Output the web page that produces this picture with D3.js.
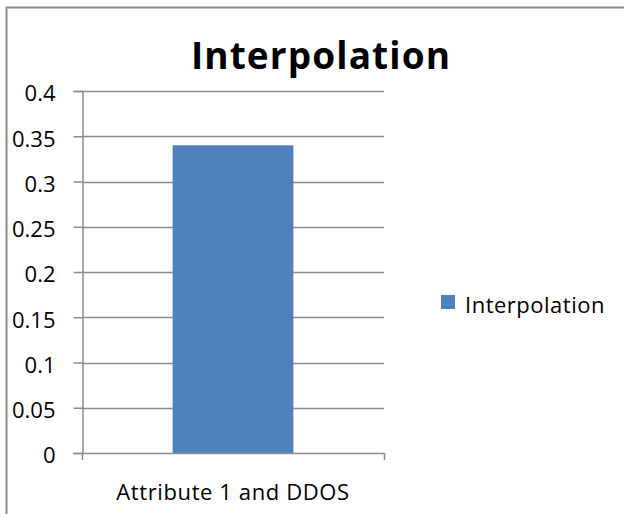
<!DOCTYPE html>
<html>
<head>
<meta charset="utf-8">
<script src="https://cdn.jsdelivr.net/npm/d3@7"></script>
<style>
  html, body { margin: 0; padding: 0; background: #fff; }
  svg { display: block; }
  text { font-family: "Open Sans", Lato, sans-serif; fill: #000; }
</style>
</head>
<body>
<svg id="chart" width="624" height="514"></svg>
<script>
// Chart data
const categories = ["Attribute 1 and DDOS"];
const seriesName = "Interpolation";
const seriesValues = [0.34];
const yTicks = [0, 0.05, 0.1, 0.15, 0.2, 0.25, 0.3, 0.35, 0.4];

const svg = d3.select("#chart");
const plot = { left: 82, right: 384, top: 91, bottom: 453 };
const FONT = "'Open Sans', Lato, sans-serif";

// outer frame of the chart area
svg.append("rect")
  .attr("x", 6.5).attr("y", 7.5)
  .attr("width", 640).attr("height", 540)
  .attr("fill", "none").attr("stroke", "#8c8c8c").attr("stroke-width", 2);

const y = d3.scaleLinear().domain([0, 0.4]).range([plot.bottom, plot.top]);
const x = d3.scaleBand().domain(categories).range([plot.left, plot.right]).paddingInner(0.6).paddingOuter(0.3);

// horizontal gridlines
svg.append("g").selectAll("line").data(yTicks.slice(1)).join("line")
  .attr("x1", plot.left).attr("x2", plot.right)
  .attr("y1", d => Math.round(y(d)) + 0.5).attr("y2", d => Math.round(y(d)) + 0.5)
  .attr("stroke", "#8c8c8c").attr("stroke-width", 1.5);

// bars
svg.append("g").selectAll("rect").data(seriesValues).join("rect")
  .attr("x", (d, i) => x(categories[i]))
  .attr("y", d => y(d))
  .attr("width", x.bandwidth())
  .attr("height", d => y(0) - y(d))
  .attr("fill", "#4f81bd");

// y axis
const yAxis = d3.axisLeft(y).tickValues(yTicks).tickSize(9).tickPadding(18)
  .tickFormat(d => d3.format("")(+d.toFixed(2)));
const gy = svg.append("g").attr("transform", `translate(${plot.left + 0.5},0)`).call(yAxis);
gy.attr("font-family", FONT).attr("font-size", 22);
gy.select(".domain").attr("stroke", "#8c8c8c").attr("stroke-width", 1.5);
gy.selectAll(".tick line").attr("stroke", "#8c8c8c").attr("stroke-width", 1.5);
gy.selectAll(".tick text").attr("font-size", 22).attr("fill", "#000").attr("dy", "0.45em");

// x axis baseline with end ticks
const gx = svg.append("g");
gx.append("line").attr("x1", plot.left).attr("x2", plot.right)
  .attr("y1", plot.bottom + 0.5).attr("y2", plot.bottom + 0.5)
  .attr("stroke", "#8c8c8c").attr("stroke-width", 1.5);
gx.selectAll("line.edge").data([plot.left, plot.right]).join("line")
  .attr("class", "edge")
  .attr("x1", d => d + 0.5).attr("x2", d => d + 0.5)
  .attr("y1", plot.bottom).attr("y2", plot.bottom + 7)
  .attr("stroke", "#8c8c8c").attr("stroke-width", 1.5);
gx.selectAll("text").data(categories).join("text")
  .attr("x", d => x(d) + x.bandwidth() / 2)
  .attr("y", 500)
  .attr("text-anchor", "middle")
  .attr("font-size", 22)
  .attr("letter-spacing", 0.6)
  .text(d => d);

// title
svg.append("text")
  .attr("x", 321).attr("y", 69)
  .attr("text-anchor", "middle")
  .attr("font-size", 37).attr("font-weight", "bold")
  .attr("letter-spacing", 1.1)
  .text(seriesName);

// legend
const lg = svg.append("g").attr("transform", "translate(441,295)");
lg.append("rect").attr("width", 14).attr("height", 14).attr("fill", "#4f81bd");
lg.append("text").attr("x", 24).attr("y", 18).attr("font-size", 22)
  .attr("letter-spacing", 0.5).text(seriesName);
</script>
</body>
</html>
